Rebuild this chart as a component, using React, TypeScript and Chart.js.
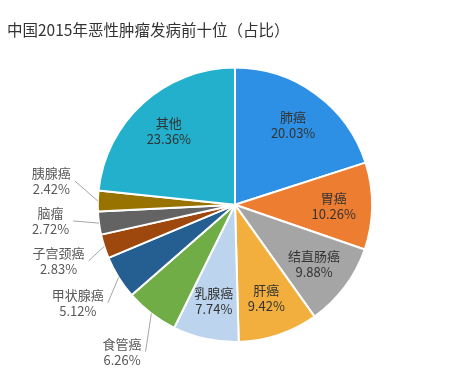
import React, { useEffect, useRef } from "react";
import { Chart, registerables } from "chart.js";

Chart.register(...registerables);

const titleText = "中国2015年恶性肿瘤发病前十位（占比）";
const categories = ["肺癌", "胃癌", "结直肠癌", "肝癌", "乳腺癌", "食管癌", "甲状腺癌", "子宫颈癌", "脑瘤", "胰腺癌", "其他"];
const shares = [20.03, 10.26, 9.88, 9.42, 7.74, 6.26, 5.12, 2.83, 2.72, 2.42, 23.36];
const sliceColors = ["#2E90E4", "#ED7D31", "#A5A5A5", "#F3AF3E", "#BCD4EE", "#70AD47", "#255E91", "#9E480E", "#636363", "#997300", "#22B0CC"];

const FONT = '"Noto Sans CJK SC", "Noto Sans", sans-serif';

const labelPlugin = {
  id: "sliceLabels",
  afterDatasetsDraw(chart: any) {
    const ctx = chart.ctx;
    const meta = chart.getDatasetMeta(0);
    ctx.save();
    ctx.font = `13px ${FONT}`;
    ctx.textAlign = "center";
    ctx.textBaseline = "middle";
    const lineH = 16;
    const outside: any[] = [];
    meta.data.forEach((arc: any, i: number) => {
      const p = arc.getProps(["x", "y", "startAngle", "endAngle", "outerRadius"], true);
      const mid = (p.startAngle + p.endAngle) / 2;
      const pct = shares[i].toFixed(2) + "%";
      if (shares[i] >= 7) {
        const r = p.outerRadius * 0.72;
        const lx = p.x + Math.cos(mid) * r;
        const ly = p.y + Math.sin(mid) * r;
        ctx.fillStyle = "#333333";
        ctx.fillText(categories[i], lx, ly - lineH / 2);
        ctx.fillText(pct, lx, ly + lineH / 2);
      } else {
        outside.push({ i, mid, cx: p.x, cy: p.y, r: p.outerRadius, pct });
      }
    });
    if (outside.length) {
      const R = outside[0].r + 48;
      outside.forEach((o) => {
        o.ly = o.cy + Math.sin(o.mid) * R;
        o.left = Math.cos(o.mid) < 0;
      });
      const left = outside.filter((o) => o.left).sort((a, b) => b.ly - a.ly);
      for (let k = 1; k < left.length; k++) {
        if (left[k - 1].ly - left[k].ly < 40) left[k].ly = left[k - 1].ly - 40;
      }
      outside.forEach((o) => {
        const dy = o.ly - o.cy;
        const dx = Math.sqrt(Math.max(R * R - dy * dy, 0));
        o.lx = o.cx + (o.left ? -dx : dx);
        const w = Math.max(ctx.measureText(categories[o.i]).width, ctx.measureText(o.pct).width);
        const ex = o.cx + Math.cos(o.mid) * o.r;
        const ey = o.cy + Math.sin(o.mid) * o.r;
        const tx = o.left ? o.lx + w / 2 + 4 : o.lx - w / 2 - 4;
        ctx.strokeStyle = "#A6A6A6";
        ctx.lineWidth = 1;
        ctx.beginPath();
        ctx.moveTo(ex, ey);
        ctx.lineTo(tx, o.ly);
        ctx.stroke();
        ctx.fillStyle = "#595959";
        ctx.fillText(categories[o.i], o.lx, o.ly - lineH / 2);
        ctx.fillText(o.pct, o.lx, o.ly + lineH / 2);
      });
    }
    ctx.restore();
  },
};

export default function App() {
  const ref = useRef<HTMLCanvasElement>(null);
  useEffect(() => {
    if (!ref.current) return;
    const chart = new Chart(ref.current, {
      type: "pie",
      data: {
        labels: categories,
        datasets: [
          {
            data: shares,
            backgroundColor: sliceColors,
            borderColor: "#ffffff",
            borderWidth: 2,
          },
        ],
      },
      options: {
        responsive: false,
        animation: false,
        layout: { padding: { left: 7, right: 11, top: 0, bottom: 31 } },
        plugins: {
          legend: { display: false },
          tooltip: { enabled: false },
          title: {
            display: true,
            text: titleText,
            align: "start",
            color: "#333333",
            font: { size: 15.5, family: FONT, weight: "normal" },
            padding: { top: 21, bottom: 27 },
          },
        },
      },
      plugins: [labelPlugin],
    });
    return () => chart.destroy();
  }, []);
  return (
    <div style={{ position: "fixed", left: 0, top: 0, width: 474, height: 374, background: "#fff" }}>
      <canvas ref={ref} width={474} height={374} />
    </div>
  );
}
